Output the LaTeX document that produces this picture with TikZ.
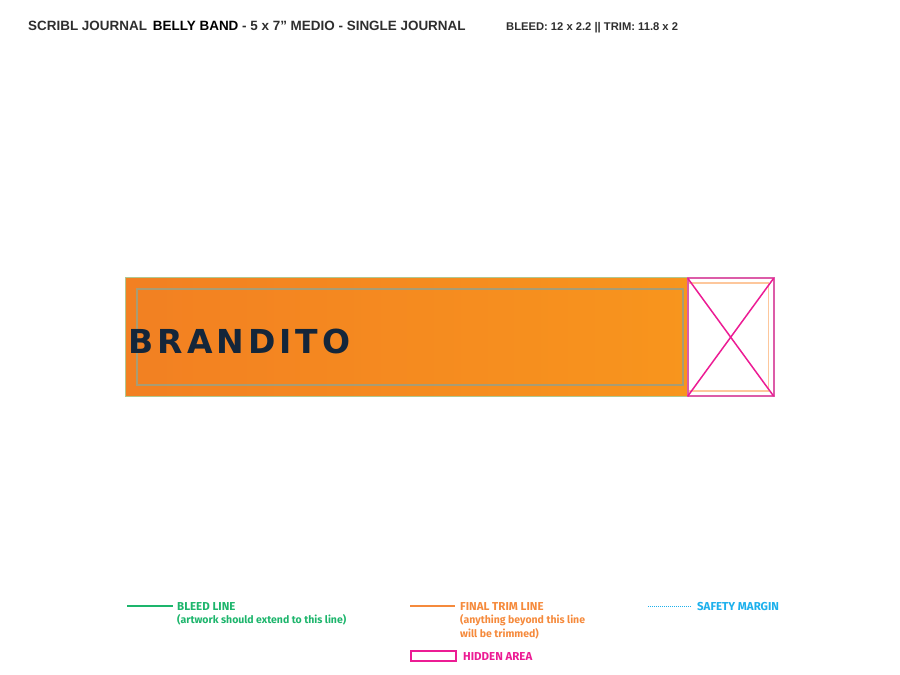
\documentclass[tikz,border=0pt]{standalone}
\usepackage{fontspec}
\setmainfont{Liberation Sans}
\newfontfamily\legendfont{Fira Sans}
\newfontfamily\brandfont[LetterSpace=12]{DejaVu Sans}
\usetikzlibrary{positioning}
\definecolor{bleedgreen}{HTML}{1DB56C}
\definecolor{bandedge}{HTML}{B0C890}
\definecolor{trimorange}{HTML}{F58A3C}
\definecolor{trimpale}{HTML}{FDC79C}
\definecolor{safetyblue}{HTML}{1CB0EC}
\definecolor{safetygray}{HTML}{A89C74}
\definecolor{hiddenpink}{HTML}{EC1C94}
\definecolor{hiddenedge}{HTML}{DC5CA8}
\definecolor{brandnavy}{HTML}{14263A}
\definecolor{bandleft}{HTML}{F28022}
\definecolor{bandright}{HTML}{F8951D}
\newcommand{\keyhead}{\fontsize{11.5}{13.5}\selectfont}
\tikzset{
  headline/.style={anchor=base west,inner sep=0pt,font=\bfseries\fontsize{#1}{#1}\selectfont,text=black!82},
  legendtext/.style={anchor=north west,inner sep=0pt,align=left,font=\legendfont\bfseries\fontsize{10.5}{13.5}\selectfont},
  outline/.style={draw,inner sep=0pt,outer sep=0pt,anchor=north west,minimum width=#1},
}
\begin{document}
\begin{tikzpicture}[x=1pt,y=-1pt]
  \useasboundingbox (0,0) rectangle (900,675);
  \node [headline=13.45] (title) at (28,30) {SCRIBL JOURNAL\, {\color{black}BELLY BAND} - 5 x 7” MEDIO - SINGLE JOURNAL};
  \node [headline=11.2] (sizes) at (506,30) {BLEED: 12 x 2.2 || TRIM: 11.8 x 2};

  \node [outline=562pt,minimum height=119pt,draw=bandedge,line width=1.2pt,left color=bandleft,right color=bandright] (band) at (125.8,277.8) {};
  \node [outline=546pt,minimum height=96pt,draw=safetygray,line width=1.8pt] (safety) at (136.8,289.2) {};
  \node [anchor=base west,inner sep=0pt,text=brandnavy,font=\brandfont\bfseries\fontsize{33}{33}\selectfont] (brand) at (128.5,353) {BRANDITO};

  \node [outline=81pt,minimum height=108pt,draw=trimpale,line width=1.8pt] (trim) at (687.5,283.3) {};
  \node [outline=86pt,minimum height=118pt,draw=hiddenedge,line width=1.7pt] (hidden) at (687.7,278.2) {};
  \draw [hiddenpink,line width=1.5pt] (hidden.north west) -- (hidden.south east);
  \draw [hiddenpink,line width=1.5pt] (hidden.north east) -- (hidden.south west);

  % legend
  \coordinate (bleedstart) at (127,605.8);
  \coordinate (bleedend) at (173,605.8);
  \draw [bleedgreen,line width=2pt] (bleedstart) -- (bleedend);
  \node [legendtext,text=bleedgreen] (bleedlabel) at (177,602) {{\keyhead BLEED LINE}\\(artwork should extend to this line)};

  \coordinate (trimstart) at (410,606.2);
  \coordinate (trimend) at (455,606.2);
  \draw [trimorange,line width=1.5pt] (trimstart) -- (trimend);
  \node [legendtext,text=trimorange] (trimlabel) at (460,602) {{\keyhead FINAL TRIM LINE}\\(anything beyond this line\\will be trimmed)};

  \coordinate (safetystart) at (648,606.3);
  \coordinate (safetyend) at (692,606.3);
  \draw [safetyblue,line width=1.2pt,dash pattern=on 1pt off 1pt] (safetystart) -- (safetyend);
  \node [legendtext,text=safetyblue] (safetylabel) at (697,602) {\keyhead SAFETY MARGIN};

  \node [outline=45pt,minimum height=10pt,draw=hiddenpink,line width=2pt] (hiddenkey) at (411,651) {};
  \node [legendtext,text=hiddenpink] (hiddenlabel) at (463,652) {\keyhead HIDDEN AREA};
\end{tikzpicture}
\end{document}
